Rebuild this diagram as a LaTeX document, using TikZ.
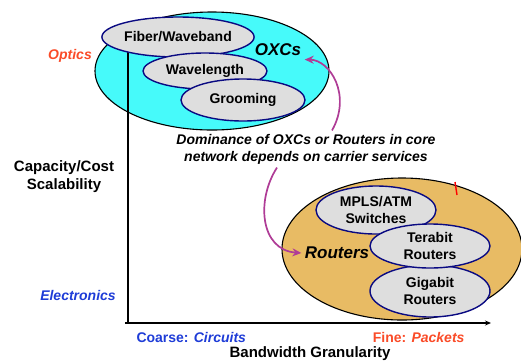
\documentclass[tikz,border=0pt]{standalone}
\usepackage{fontspec}
\setmainfont{Liberation Sans}
\usetikzlibrary{shapes.geometric}
\usetikzlibrary{arrows.meta}
\usetikzlibrary{positioning}
\definecolor{oxcfill}{RGB}{70,250,250}
\definecolor{rtrfill}{RGB}{232,187,100}
\definecolor{techfill}{RGB}{222,222,222}
\definecolor{techline}{RGB}{10,10,130}
\definecolor{optred}{RGB}{250,75,40}
\definecolor{eleblue}{RGB}{30,60,215}
\definecolor{dommag}{RGB}{175,60,150}
\tikzset{outer/.style = {ellipse, draw=black, line width=1.1pt, inner sep=0}}
\tikzset{tech/.style = {ellipse, draw=techline, fill=techfill, line width=1.4pt,
                        inner sep=0, align=center, font=\fontsize{14}{17}\selectfont\bfseries}}
\tikzset{lbl/.style = {font=\fontsize{14}{17}\selectfont\bfseries, align=center}}
\tikzset{biglbl/.style = {font=\fontsize{17}{19}\selectfont\bfseries\itshape}}
\tikzset{curl/.style = {draw=dommag, line width=1.7pt, -{Stealth[length=9pt,width=8pt]}}}

\begin{document}
\begin{tikzpicture}[x=1pt, y=-1pt]
    \useasboundingbox (0, 0) rectangle (521, 360);

    \node [outer, fill=oxcfill, minimum width=234, minimum height=118] (oxc) at (212, 71) {};
    \draw [line width=1.2pt] (128, 323) -- (128, 40);
    \node [tech, minimum width=124, minimum height=40] (fiber) at (178, 37) {Fiber/Waveband};
    \node [tech, minimum width=124, minimum height=36] (wave) at (205, 71) {Wavelength};
    \node [tech, minimum width=124, minimum height=42] (groom) at (243, 100) {Grooming};
    \node [biglbl] (oxcs) at (278, 50) {OXCs};

    \node [outer, fill=rtrfill, minimum width=240, minimum height=142] (rtr) at (402, 249) {};
    \node [tech, minimum width=120, minimum height=48] (mpls) at (376, 210) {MPLS/ATM\\Switches};
    \node [tech, minimum width=120, minimum height=52] (giga) at (430, 291) {Gigabit\\Routers};
    \node [tech, minimum width=120, minimum height=44] (tera) at (430, 246) {Terabit\\Routers};
    \node [biglbl] (rtrs) at (337, 253) {Routers};
    \draw [red, line width=1.4pt] (455, 182) -- (457, 195);

    \draw [line width=1.2pt, -{Stealth[length=6pt,width=5pt]}] (125, 323) -- (491, 323);

    \node [lbl, font=\fontsize{14}{17}\selectfont\bfseries\itshape] (dom) at (306, 149)
        {Dominance of OXCs or Routers in core\\network depends on carrier services};
    \draw [curl] ([xshift=26pt]dom.north) .. controls (352, 95) and (330, 60) .. (oxcs.south east);
    \draw [curl] ([xshift=-29pt]dom.south) .. controls (256, 200) and (260, 250) .. (rtrs.west);

    \node [lbl, font=\fontsize{15}{18}\selectfont\bfseries] (cap) at (64, 177) {Capacity/Cost\\Scalability};
    \node [lbl, text=optred, font=\fontsize{14}{17}\selectfont\bfseries\itshape] (opt) at (70, 56) {Optics};
    \node [lbl, text=eleblue, font=\fontsize{14}{17}\selectfont\bfseries\itshape] (ele) at (78, 295) {Electronics};
    \node [lbl, text=eleblue, anchor=west] (coarse) at (133, 337) {Coarse: \textit{Circuits}};
    \node [lbl, text=optred, anchor=east] (fine) at (468, 337) {Fine: \textit{Packets}};
    \node [lbl, font=\fontsize{15}{18}\selectfont\bfseries] (bw) at (310, 354) {Bandwidth Granularity};
  \end{tikzpicture}
\end{document}
